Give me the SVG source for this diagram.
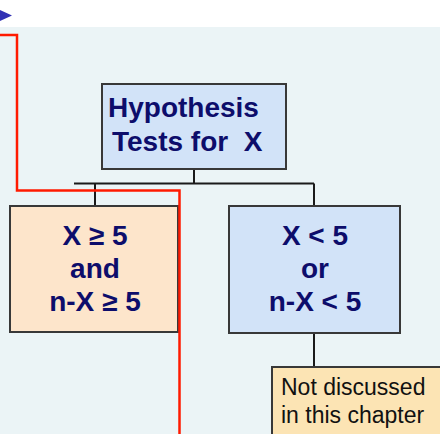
<svg xmlns="http://www.w3.org/2000/svg" width="440" height="434" viewBox="0 0 440 434">
<style>
.box{stroke:#383838;stroke-width:2}
.bt{font-family:"Liberation Sans",Arial,sans-serif;font-weight:bold;font-size:28px;fill:#0D0D6B;text-anchor:middle}
.nt{font-family:"Liberation Sans",Arial,sans-serif;font-size:23px;fill:#111}
.con{stroke:#1a1a1a;stroke-width:2;fill:none}
</style>
<rect x="0" y="0" width="440" height="27" fill="#ffffff"/>
<rect x="0" y="27" width="440" height="407" fill="#EBF4F6"/>
<polygon points="0,10 12,15.5 0,21" fill="#3232B4"/>
<g id="connectors">
<path class="con" d="M194,169 V183.5 M74,183.5 H314 M95,183.5 V206 M314,183.5 V206 M314,333 V367"/>
</g>
<g id="root">
<rect class="box" x="102" y="84" width="184" height="85" fill="#D2E3F8"/>
<text class="bt" x="108" y="117" style="text-anchor:start">Hypothesis</text>
<text class="bt" x="112" y="151" style="text-anchor:start" xml:space="preserve">Tests for  X</text>
</g>
<g id="left">
<rect class="box" x="10" y="206" width="168" height="126" fill="#FDE5CB"/>
<text class="bt" x="95" y="245">X ≥ 5</text>
<text class="bt" x="95" y="278">and</text>
<text class="bt" x="95" y="311">n-X ≥ 5</text>
</g>
<g id="right">
<rect class="box" x="229" y="206" width="171" height="127" fill="#D2E3F8"/>
<text class="bt" x="315" y="245">X &lt; 5</text>
<text class="bt" x="315" y="278">or</text>
<text class="bt" x="315" y="311">n-X &lt; 5</text>
</g>
<g id="notdiscussed">
<rect class="box" x="272" y="367" width="180" height="80" fill="#FCE4B4"/>
<text class="nt" x="281" y="395">Not discussed</text>
<text class="nt" x="281" y="423">in this chapter</text>
</g>
<path d="M0,35 H17 V190.5 H179.5 V434" fill="none" stroke="#FF1A00" stroke-width="2.5"/>
</svg>
